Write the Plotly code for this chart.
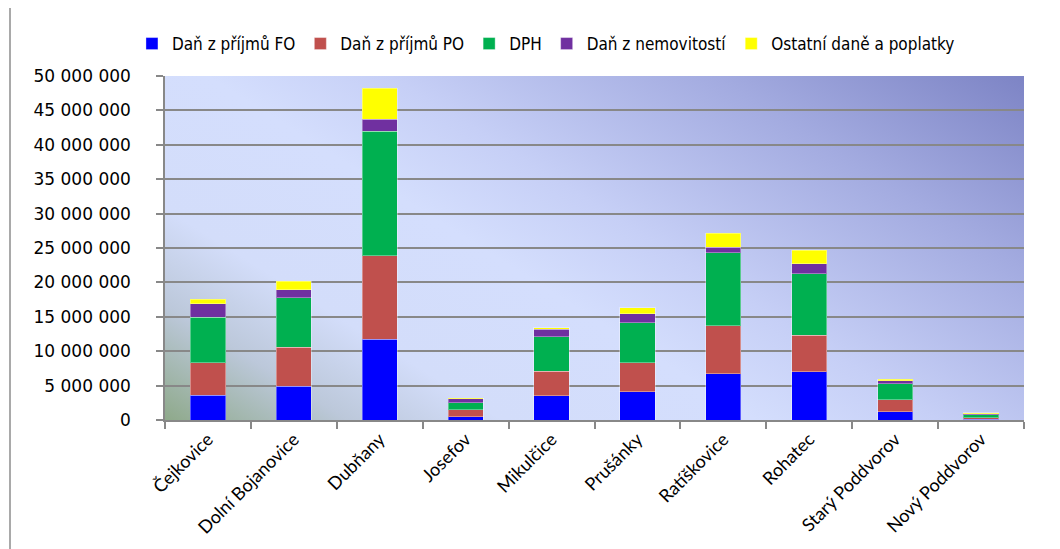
import base64
import plotly.graph_objects as go

categories = ["Čejkovice", "Dolní Bojanovice", "Dubňany", "Josefov", "Mikulčice",
              "Prušánky", "Ratíškovice", "Rohatec", "Starý Poddvorov", "Nový Poddvorov"]

dan_fo = [3590000, 4900000, 11710000, 500000, 3550000, 4130000, 6740000, 7030000, 1200000, 100000]
dan_po = [4700000, 5650000, 12170000, 1000000, 3520000, 4200000, 6960000, 5320000, 1740000, 230000]
dph = [6610000, 7200000, 18080000, 1020000, 5030000, 5800000, 10580000, 8880000, 2320000, 420000]
dan_nem = [1980000, 1160000, 1740000, 580000, 1060000, 1300000, 860000, 1450000, 440000, 190000]
ostatni = [680000, 1260000, 4490000, 60000, 240000, 920000, 2030000, 2030000, 240000, 100000]

series = [
    ("Daň z příjmů FO", dan_fo, "#0000FF"),
    ("Daň z příjmů PO", dan_po, "#C0504D"),
    ("DPH", dph, "#00B050"),
    ("Daň z nemovitostí", dan_nem, "#7030A0"),
    ("Ostatní daně a poplatky", ostatni, "#FFFF00"),
]

y_ticks = [0, 5000000, 10000000, 15000000, 20000000, 25000000,
           30000000, 35000000, 40000000, 45000000, 50000000]

fig = go.Figure()
for name, vals, color in series:
    fig.add_trace(go.Bar(
        name=name, x=categories, y=vals, width=0.41,
        marker=dict(color=color, line=dict(color="rgba(255,255,255,0.35)", width=1)),
    ))

svg = """<svg xmlns='http://www.w3.org/2000/svg' width='860' height='345' viewBox='0 0 860 345' preserveAspectRatio='none'>
<defs>
<linearGradient id='g' gradientUnits='userSpaceOnUse' x1='860' y1='0' x2='461' y2='635'>
<stop offset='0' stop-color='#7d84c5'/>
<stop offset='0.22' stop-color='#a3abe0'/>
<stop offset='0.45' stop-color='#c6cff6'/>
<stop offset='0.58' stop-color='#d4defd'/>
<stop offset='0.76' stop-color='#d3ddfa'/>
<stop offset='0.87' stop-color='#bcc8da'/>
<stop offset='1' stop-color='#8ea98a'/>
</linearGradient>
</defs>
<rect x='0' y='0' width='860' height='345' fill='url(#g)'/>
</svg>"""
src = "data:image/svg+xml;base64," + base64.b64encode(svg.encode()).decode()

fig.add_layout_image(dict(source=src, xref="paper", yref="paper", x=0, y=1,
                          sizex=1, sizey=1, sizing="stretch", layer="below",
                          xanchor="left", yanchor="top"))

# chart frame lines (left and right)
for xp in (-155/859, (1047-157)/859):
    fig.add_shape(type="line", xref="paper", yref="paper",
                  x0=xp, x1=xp, y0=-0.5, y1=1.5,
                  line=dict(color="#8c8c8c", width=1.5))

fig.update_layout(
    width=1052, height=541,
    margin=dict(l=157, r=36, t=68, b=129, autoexpand=False),
    barmode="stack",
    paper_bgcolor="white",
    plot_bgcolor="rgba(0,0,0,0)",
    separators=", ",
    font=dict(family="Lato, 'Open Sans', sans-serif", color="#000000"),
    legend=dict(orientation="h", x=0.4435, xanchor="center",
                y=1.093, yanchor="middle",
                font=dict(size=17, family="'DejaVu Sans Condensed', Lato, sans-serif"),
                itemwidth=30, traceorder="normal",
                bgcolor="rgba(0,0,0,0)"),
    xaxis=dict(tickangle=-45, tickfont=dict(size=18, family="Lato, sans-serif"), showgrid=False,
               showline=True, linecolor="#888888", linewidth=1.5,
               ticks="outside", tickson="boundaries", ticklen=7, tickcolor="#888888",
               tickwidth=1.5),
    yaxis=dict(range=[0, 50000000], tickvals=y_ticks, tickformat=",d",
               tickfont=dict(size=17, family="'DejaVu Sans', sans-serif"),
               ticklabelstandoff=22,
               showgrid=True, gridcolor="#888888", gridwidth=1.5,
               showline=True, linecolor="#888888", linewidth=1.5,
               ticks="outside", ticklen=7, tickcolor="#888888", tickwidth=1.5,
               zeroline=False),
)

fig.write_html("out.html")
